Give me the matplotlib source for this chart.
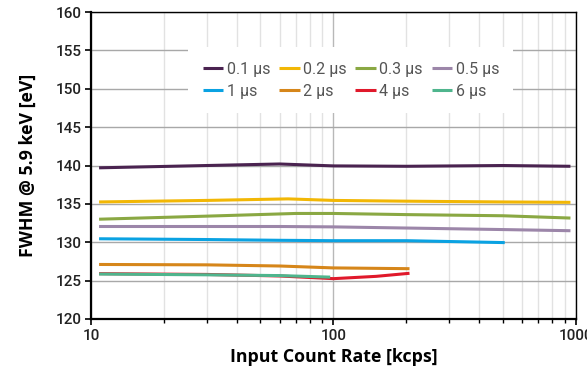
import matplotlib.pyplot as plt
import numpy as np

# FWHM vs input count rate for different peaking times
labels = ['0.1 µs', '0.2 µs', '0.3 µs', '0.5 µs', '1 µs', '2 µs', '4 µs', '6 µs']
colors = ['#4a2350', '#f2b705', '#8aa843', '#9c86a9', '#0aa2e2', '#d6861a', '#e0192b', '#4fb58d']

icr_01 = [10.8, 30, 60, 100, 200, 500, 950]
fwhm_01 = [139.7, 140.0, 140.2, 139.95, 139.9, 140.0, 139.9]
icr_02 = [10.8, 30, 65, 100, 200, 500, 950]
fwhm_02 = [135.25, 135.45, 135.65, 135.45, 135.35, 135.25, 135.2]
icr_03 = [10.8, 30, 70, 100, 200, 500, 950]
fwhm_03 = [133.0, 133.4, 133.75, 133.75, 133.6, 133.45, 133.15]
icr_05 = [10.8, 30, 60, 100, 200, 500, 950]
fwhm_05 = [132.05, 132.05, 132.05, 132.0, 131.85, 131.65, 131.5]
icr_1 = [10.8, 30, 60, 100, 200, 509]
fwhm_1 = [130.45, 130.35, 130.25, 130.2, 130.2, 129.95]
icr_2 = [10.8, 30, 60, 100, 206]
fwhm_2 = [127.1, 127.05, 126.9, 126.65, 126.55]
icr_4 = [10.8, 30, 60, 100, 150, 206]
fwhm_4 = [125.9, 125.8, 125.6, 125.25, 125.55, 125.95]
icr_6 = [10.8, 30, 60, 97]
fwhm_6 = [125.85, 125.75, 125.65, 125.45]

series = [(icr_01, fwhm_01), (icr_02, fwhm_02), (icr_03, fwhm_03), (icr_05, fwhm_05),
          (icr_1, fwhm_1), (icr_2, fwhm_2), (icr_4, fwhm_4), (icr_6, fwhm_6)]

fig = plt.figure(figsize=(5.87, 3.67), dpi=100)
ax = fig.add_axes([0.155, 0.131, 0.826, 0.836])

handles = []
for i, (x, y) in enumerate(series):
    h, = ax.plot(x, y, color=colors[i], lw=2.2, label=labels[i],
                 zorder=5 if i == 7 else 4, solid_capstyle='butt')
    handles.append(h)

ax.set_xscale('log')
ax.set_xlim(10, 1000)
ax.set_ylim(120, 160)
ax.set_yticks(np.arange(120, 161, 5))
ax.set_xticks([10, 100, 1000])
ax.set_xticklabels(['10', '100', '1000'])

ax.grid(True, which='major', axis='y', color='#a8a8a8', lw=1.0, zorder=0)
ax.grid(True, which='major', axis='x', color='#b8b8b8', lw=1.0, zorder=0)
ax.grid(True, which='minor', axis='x', color='#e2e2e2', lw=1.0, zorder=0)
ax.set_axisbelow(True)

for s in ['left', 'bottom']:
    ax.spines[s].set_linewidth(1.6)
for s in ['top', 'right']:
    ax.spines[s].set_linewidth(1.0)

ax.tick_params(axis='both', which='major', direction='out', length=4, width=1.2,
               labelsize=11, labelcolor='#222222')
ax.tick_params(axis='x', which='minor', direction='out', length=3, width=1.0)
ax.tick_params(axis='y', pad=3)
for lab in ax.get_xticklabels() + ax.get_yticklabels():
    lab.set_family('Roboto')
    lab.set_fontweight('medium')

ax.set_xlabel('Input Count Rate [kcps]', fontsize=12.8, fontweight='bold',
              family='Open Sans', labelpad=3)
ax.set_ylabel('FWHM @ 5.9 keV [eV]', fontsize=12.8, fontweight='bold',
              family='Open Sans', labelpad=13)

# row-wise legend order: 0.1, 0.2, 0.3, 0.5 / 1, 2, 4, 6
leg_order = [0, 4, 1, 5, 2, 6, 3, 7]
leg = ax.legend([handles[k] for k in leg_order], [labels[k] for k in leg_order],
                ncol=4, loc='center', bbox_to_anchor=(0.536, 0.778),
                frameon=True, fancybox=False, edgecolor='none', framealpha=1,
                prop={'family': 'Roboto', 'size': 11.5}, handlelength=1.3,
                handletextpad=0.2, columnspacing=0.55, labelspacing=0.45,
                borderpad=0.9)
leg.set_zorder(3)
for t in leg.get_texts():
    t.set_color('#555555')

fig.savefig('out.png', dpi=100)
